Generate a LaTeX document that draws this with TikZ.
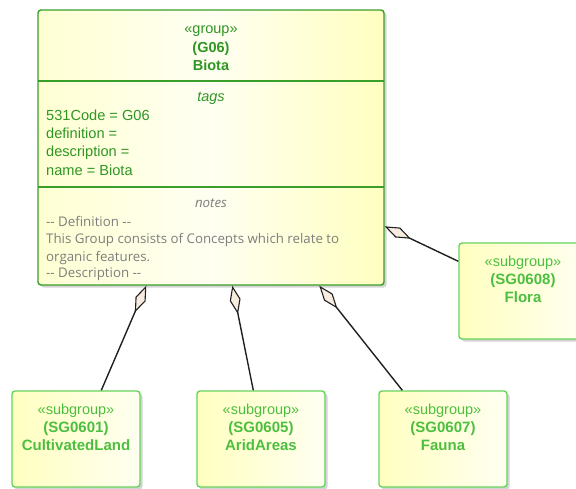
\documentclass[tikz,border=0pt]{standalone}
\usepackage{fontspec}
\setmainfont{Liberation Sans}
\newfontfamily\notesfont{Open Sans}
\usetikzlibrary{arrows.meta,calc,shadows}

\definecolor{grpborder}{HTML}{3A9E2A}
\definecolor{grptext}{HTML}{2F9624}
\definecolor{subborder}{HTML}{66D45A}
\definecolor{subtext}{HTML}{4DBF40}
\definecolor{noteText}{HTML}{7E7E7E}
\definecolor{boxyellow}{HTML}{FFFFC0}
\definecolor{boxlight}{HTML}{FFFFF2}
\definecolor{diamondfill}{HTML}{F7ECDD}
\definecolor{linkcol}{HTML}{202020}

\tikzset{
  boxshadow/.style={drop shadow={shadow xshift=2.5pt, shadow yshift=-2.5pt, opacity=0.28, fill=black!60}},
  groupbox/.style={draw=grpborder, line width=1.4pt, rounded corners=3pt,
    left color=boxyellow!70!white, right color=boxyellow, middle color=boxlight,
    boxshadow, inner sep=0pt},
  subbox/.style={draw=subborder, line width=1.4pt, rounded corners=3pt,
    left color=boxyellow, right color=boxlight, boxshadow, inner sep=0pt,
    minimum width=128pt, minimum height=96pt},
  divider/.style={draw=grpborder, line width=1.4pt},
  grplabel/.style={text=grptext, font=\fontsize{14.5}{17}\selectfont, inner sep=0pt, anchor=base},
  grpbold/.style={grplabel, font=\fontsize{14.5}{17}\selectfont\bfseries},
  taglabel/.style={text=grptext, font=\fontsize{14.6}{17}\selectfont, inner sep=0pt, anchor=base west},
  notelabel/.style={text=noteText, font=\notesfont\fontsize{13.3}{16}\selectfont, inner sep=0pt, anchor=base west},
  sublabel/.style={text=subtext, font=\fontsize{14.5}{17}\selectfont, inner sep=0pt, anchor=base},
  subbold/.style={sublabel, font=\fontsize{15}{17}\selectfont\bfseries},
  aggregation/.style={draw=linkcol, line width=1.4pt,
    -{Diamond[length=29pt, width=11pt, fill=diamondfill, line width=1.1pt]}},
}

\begin{document}
\begin{tikzpicture}[x=1pt, y=-1pt]
\useasboundingbox (0,0) rectangle (576,488);

% group element Biota
\node[groupbox, minimum width=346pt, minimum height=275pt] (main) at (211,147.5) {};
\draw[divider] (38,81) -- (384,81);
\draw[divider] (38,187) -- (384,187);

\node[grplabel] (gst) at (211,33) {«group»};
\node[grpbold] (gcode) at (211,52) {(G06)};
\node[grpbold] (gname) at (211,70) {Biota};

\node[grplabel, font=\fontsize{14.5}{17}\selectfont\itshape] (tagshd) at (211,101) {tags};
\node[taglabel] (tag1) at (46,120) {531Code = G06};
\node[taglabel] (tag2) at (46,138) {definition =};
\node[taglabel] (tag3) at (46,156.5) {description =};
\node[taglabel] (tag4) at (46,175) {name = Biota};

\node[notelabel, anchor=base, font=\notesfont\fontsize{13.3}{16}\selectfont\itshape] (noteshd) at (211,207) {notes};
\node[notelabel] (n1) at (46,226) {-- Definition --};
\node[notelabel] (n2) at (46,243.5) {This Group consists of Concepts which relate to};
\node[notelabel] (n3) at (46,261) {organic features.};
\node[notelabel] (n4) at (46,277.5) {-- Description --};

% subgroup elements
\node[subbox] (flora) at (523,291) {};
\node[sublabel] (fst) at (523,266) {«subgroup»};
\node[subbold] (fcode) at (523,284.5) {(SG0608)};
\node[subbold] (fname) at (523,302.5) {Flora};

\node[subbox] (cult) at (76,439) {};
\node[sublabel] (cst) at (76,414) {«subgroup»};
\node[subbold] (ccode) at (76,432.5) {(SG0601)};
\node[subbold] (cname) at (76,450.5) {CultivatedLand};

\node[subbox] (arid) at (261,439) {};
\node[sublabel] (ast) at (261,414) {«subgroup»};
\node[subbold] (acode) at (261,432.5) {(SG0605)};
\node[subbold] (aname) at (261,450.5) {AridAreas};

\node[subbox] (fauna) at (443,439) {};
\node[sublabel] (fast) at (443,414) {«subgroup»};
\node[subbold] (facode) at (443,432.5) {(SG0607)};
\node[subbold] (faname) at (443,450.5) {Fauna};

% connector ends on the group border
\coordinate (tipC) at ($(main.south west)+(109,0)$);
\coordinate (tipA) at ($(main.south west)+(195,0)$);
\coordinate (tipFa) at ($(main.south west)+(282,0)$);
\coordinate (tipFl) at ($(main.north east)+(0,217)$);

% connector ends on the subgroups
\coordinate (endC) at ($(cult.north west)+(90,0)$);
\coordinate (endA) at ($(arid.north west)+(57,0)$);
\coordinate (endFa) at ($(fauna.north west)+(24,0)$);
\coordinate (endFl) at ($(flora.north west)+(0,19)$);

% aggregations
\draw[aggregation] (endC) -- (tipC);
\draw[aggregation] (endA) -- (tipA);
\draw[aggregation] (endFa) -- (tipFa);
\draw[aggregation] (endFl) -- (tipFl);
\end{tikzpicture}
\end{document}
